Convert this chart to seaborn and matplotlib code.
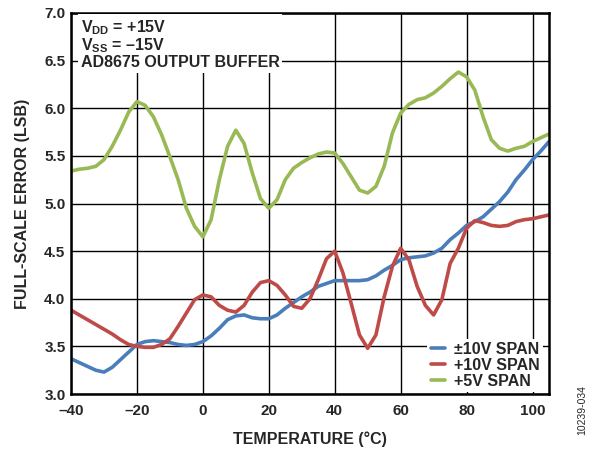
import numpy as np
import pandas as pd
import matplotlib
matplotlib.use("Agg")
import matplotlib.pyplot as plt
import seaborn as sns

temp = [-40, -37.5, -35, -32.5, -30, -27.5, -25, -22.5, -20, -17.5, -15, -12.5,
        -10, -7.5, -5, -2.5, 0, 2.5, 5, 7.5, 10, 12.5, 15, 17.5, 20, 22.5, 25,
        27.5, 30, 32.5, 35, 37.5, 40, 42.5, 45, 47.5, 50, 52.5, 55, 57.5, 60,
        62.5, 65, 67.5, 70, 72.5, 75, 77.5, 80, 82.5, 85, 87.5, 90, 92.5, 95,
        97.5, 100, 102.5, 105]

# ±10V span
span_pm10 = [3.37, 3.33, 3.29, 3.25, 3.23, 3.28, 3.36, 3.44, 3.52, 3.55,
             3.56, 3.55, 3.54, 3.52, 3.51, 3.52, 3.55, 3.61, 3.69, 3.78,
             3.82, 3.83, 3.80, 3.79, 3.79, 3.83, 3.90, 3.96, 4.02, 4.07,
             4.13, 4.16, 4.19, 4.19, 4.19, 4.19, 4.20, 4.24, 4.30, 4.35,
             4.41, 4.43, 4.44, 4.45, 4.48, 4.53, 4.62, 4.69, 4.77, 4.81,
             4.86, 4.94, 5.02, 5.12, 5.25, 5.35, 5.46, 5.55, 5.65]
# +10V span
span_p10 = [3.88, 3.83, 3.78, 3.73, 3.68, 3.63, 3.57, 3.52, 3.50, 3.49,
            3.49, 3.52, 3.58, 3.71, 3.85, 3.99, 4.04, 4.02, 3.93, 3.88,
            3.86, 3.93, 4.07, 4.17, 4.19, 4.14, 4.04, 3.92, 3.90, 4.00,
            4.20, 4.42, 4.50, 4.27, 3.95, 3.62, 3.48, 3.62, 4.02, 4.34,
            4.53, 4.41, 4.13, 3.93, 3.83, 3.99, 4.37, 4.53, 4.74, 4.82,
            4.80, 4.77, 4.76, 4.77, 4.81, 4.83, 4.84, 4.86, 4.88]
# +5V span
span_p5 = [5.34, 5.36, 5.37, 5.39, 5.46, 5.60, 5.77, 5.96, 6.07, 6.03,
           5.91, 5.72, 5.49, 5.25, 4.95, 4.76, 4.65, 4.83, 5.25, 5.60,
           5.77, 5.63, 5.32, 5.05, 4.95, 5.04, 5.25, 5.37, 5.43, 5.48,
           5.52, 5.54, 5.53, 5.42, 5.28, 5.14, 5.11, 5.18, 5.39, 5.74,
           5.95, 6.04, 6.09, 6.11, 6.16, 6.23, 6.31, 6.38, 6.33, 6.19,
           5.91, 5.67, 5.58, 5.55, 5.58, 5.60, 5.65, 5.69, 5.73]

names = ["±10V SPAN", "+10V SPAN", "+5V SPAN"]
colors = ["#4a7ebb", "#be4b48", "#98b954"]

df = pd.DataFrame({"temp": temp, names[0]: span_pm10, names[1]: span_p10, names[2]: span_p5})
df = df.melt(id_vars="temp", var_name="series", value_name="err")

sns.set_style("white")
plt.rcParams['font.family'] = ['Liberation Sans', 'DejaVu Sans']
plt.rcParams['font.weight'] = 'bold'
plt.rcParams['mathtext.fontset'] = 'custom'
plt.rcParams['mathtext.bf'] = 'Liberation Sans:bold'
plt.rcParams['mathtext.rm'] = 'Liberation Sans:bold'

fig = plt.figure(figsize=(6.01, 4.54), dpi=100)
ax = fig.add_axes([71/601, 1-394/454, 478/601, 381/454])

sns.lineplot(data=df, x="temp", y="err", hue="series", palette=colors,
             linewidth=2.6, ax=ax, legend=True)
for ln in ax.get_lines():
    ln.set_solid_joinstyle('round')
    ln.set_solid_capstyle('round')

ax.set_xlim(-40, 105)
ax.set_ylim(3.0, 7.0)
xt = [-40, -20, 0, 20, 40, 60, 80, 100]
ax.set_xticks(xt)
ax.set_xticklabels([f"–{abs(v)}" if v < 0 else str(v) for v in xt])
yt = [3.0, 3.5, 4.0, 4.5, 5.0, 5.5, 6.0, 6.5, 7.0]
ax.set_yticks(yt)
ax.set_yticklabels([f"{v:.1f}" for v in yt])
ax.tick_params(direction='in', length=4, width=1, labelsize=11, color='black', pad=4)
ax.tick_params(axis='x', pad=7)
ax.grid(True, color='black', linewidth=1)
ax.set_axisbelow(True)
for s in ax.spines.values():
    s.set_color('black')
    s.set_linewidth(1.8)

ax.set_xlabel("TEMPERATURE (°C)", fontsize=11.5, fontweight='bold', labelpad=10)
ax.set_ylabel("FULL-SCALE ERROR (LSB)", fontsize=11.5, fontweight='bold', labelpad=10)

ax.text(0.02, 0.985, "$\\mathbf{V_{DD}}$ = +15V\n$\\mathbf{V_{SS}}$ = –15V\nAD8675 OUTPUT BUFFER",
        transform=ax.transAxes, ha='left', va='top', fontsize=11.5, fontweight='bold',
        linespacing=0.95,
        bbox=dict(facecolor='white', edgecolor='none', pad=2))

leg = ax.legend(loc='lower right', bbox_to_anchor=(1.005, -0.015), frameon=True,
                fontsize=11.5, handlelength=0.9, handletextpad=0.6, labelspacing=0.05,
                borderpad=0.2, fancybox=False, title=None)
leg.get_frame().set_edgecolor('none')
leg.get_frame().set_facecolor('white')
leg.get_frame().set_alpha(1)
for t in leg.get_texts():
    t.set_fontweight('bold')

fig.text(582/601, 1-410/454, "10239-034", rotation=90, ha='center', va='center',
         fontsize=7.5, fontweight='normal')

fig.savefig("out.png", dpi=100)
